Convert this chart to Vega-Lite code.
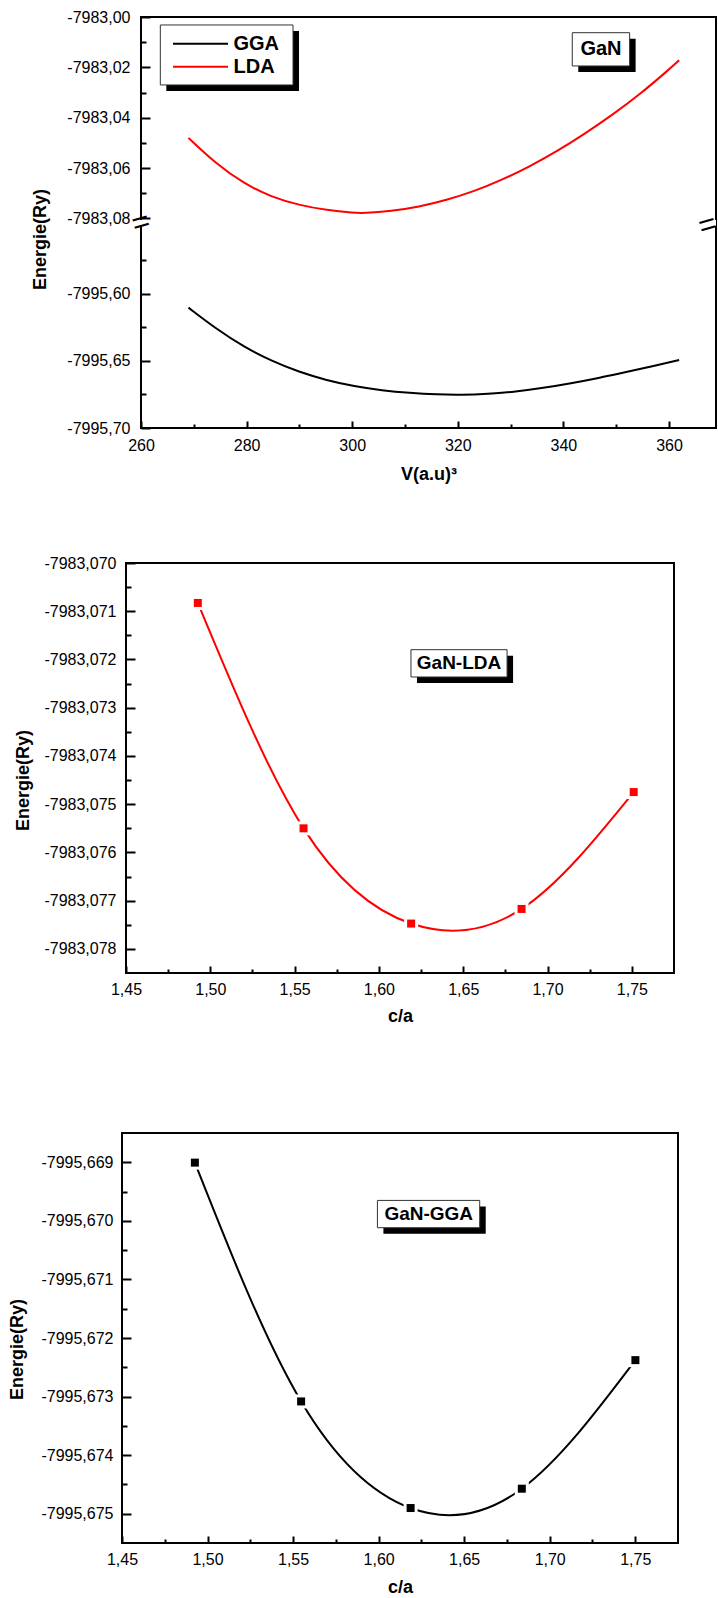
{
  "$schema": "https://vega.github.io/schema/vega-lite/v6.json",
  "padding": {"left": 0, "top": 8, "right": 0, "bottom": 0},
  "spacing": 0,
  "config": {
    "view": {"stroke": null},
    "font": "Liberation Sans",
    "axis": {
      "labelFont": "Liberation Sans", "labelFontSize": 16, "labelColor": "#000",
      "titleFont": "Liberation Sans", "titleFontSize": 18, "titleFontWeight": "bold", "titleColor": "#000",
      "tickColor": "#000", "domain": false, "grid": false, "labelFlush": false, "labelOverlap": false
    }
  },
  "datasets": {
    "ev": [
      {"V": 268.99, "E": -7983.0480, "method": "LDA"},
      {"V": 274.22, "E": -7983.0583, "method": "LDA"},
      {"V": 279.46, "E": -7983.0661, "method": "LDA"},
      {"V": 284.69, "E": -7983.0715, "method": "LDA"},
      {"V": 289.93, "E": -7983.0747, "method": "LDA"},
      {"V": 295.17, "E": -7983.0767, "method": "LDA"},
      {"V": 300.40, "E": -7983.0778, "method": "LDA"},
      {"V": 302.15, "E": -7983.0779, "method": "LDA"},
      {"V": 307.38, "E": -7983.0771, "method": "LDA"},
      {"V": 312.62, "E": -7983.0754, "method": "LDA"},
      {"V": 317.85, "E": -7983.0727, "method": "LDA"},
      {"V": 323.09, "E": -7983.0692, "method": "LDA"},
      {"V": 328.32, "E": -7983.0647, "method": "LDA"},
      {"V": 333.56, "E": -7983.0594, "method": "LDA"},
      {"V": 338.80, "E": -7983.0533, "method": "LDA"},
      {"V": 344.03, "E": -7983.0464, "method": "LDA"},
      {"V": 349.27, "E": -7983.0389, "method": "LDA"},
      {"V": 354.50, "E": -7983.0307, "method": "LDA"},
      {"V": 359.74, "E": -7983.0213, "method": "LDA"},
      {"V": 361.92, "E": -7983.0172, "method": "LDA"},
      {"V": 268.99, "E": -7995.6104, "method": "GGA"},
      {"V": 274.22, "E": -7995.6261, "method": "GGA"},
      {"V": 279.46, "E": -7995.6395, "method": "GGA"},
      {"V": 284.69, "E": -7995.6501, "method": "GGA"},
      {"V": 289.93, "E": -7995.6583, "method": "GGA"},
      {"V": 295.17, "E": -7995.6645, "method": "GGA"},
      {"V": 300.40, "E": -7995.6690, "method": "GGA"},
      {"V": 305.64, "E": -7995.6720, "method": "GGA"},
      {"V": 310.87, "E": -7995.6739, "method": "GGA"},
      {"V": 316.11, "E": -7995.6751, "method": "GGA"},
      {"V": 320.47, "E": -7995.6754, "method": "GGA"},
      {"V": 325.71, "E": -7995.6747, "method": "GGA"},
      {"V": 330.94, "E": -7995.6729, "method": "GGA"},
      {"V": 336.18, "E": -7995.6702, "method": "GGA"},
      {"V": 341.41, "E": -7995.6667, "method": "GGA"},
      {"V": 346.65, "E": -7995.6628, "method": "GGA"},
      {"V": 351.88, "E": -7995.6584, "method": "GGA"},
      {"V": 357.12, "E": -7995.6538, "method": "GGA"},
      {"V": 361.92, "E": -7995.6494, "method": "GGA"}
    ],
    "ca_lda": [
      {"c": 1.4926, "E": -7983.070828},
      {"c": 1.5553, "E": -7983.075501},
      {"c": 1.6191, "E": -7983.077475},
      {"c": 1.6846, "E": -7983.077172},
      {"c": 1.7511, "E": -7983.074749}
    ],
    "ca_gga": [
      {"c": 1.4926, "E": -7995.669006},
      {"c": 1.5547, "E": -7995.673083},
      {"c": 1.6187, "E": -7995.674903},
      {"c": 1.6837, "E": -7995.674573},
      {"c": 1.7501, "E": -7995.672378}
    ]
  },
  "vconcat": [
    {
      "bounds": "flush",
      "spacing": 0,
      "hconcat": [
        {"width": 141, "height": 1, "data": {"values": []}, "mark": "point"},
        {
          "width": 575,
          "height": 411,
          "view": {"stroke": "#000", "strokeWidth": 2},
          "resolve": {"axis": {"x": "independent", "y": "independent"}},
          "layer": [
            {
              "data": {"name": "ev"},
              "mark": {"type": "line", "strokeWidth": 2, "interpolate": "basis"},
              "encoding": {
                "x": {
                  "field": "V", "type": "quantitative",
                  "scale": {"domain": [260, 368.9], "nice": false, "zero": false},
                  "axis": {"orient": "bottom", "values": [260, 280, 300, 320, 340, 360], "tickSize": -7, "tickWidth": 2, "labelPadding": 16,
                    "title": "V(a.u)³", "titleY": 46, "titleBaseline": "middle"}
                },
                "y": {
                  "field": "E", "type": "quantitative",
                  "scale": {"domain": [-7995.70, -7995.5496, -7983.0806, -7983.00], "range": [411, 209, 203, 0], "nice": false, "zero": false},
                  "axis": {"orient": "left", "values": [-7983.00, -7983.02, -7983.04, -7983.06, -7983.08, -7995.60, -7995.65, -7995.70],
                    "tickSize": -9, "tickWidth": 2, "labelPadding": 20,
                    "labelExpr": "replace(replace(format(datum.value, '.2f'), '.', ','), '\u2212', '-')",
                    "title": "Energie(Ry)", "titleX": -101, "titleY": 222, "titleAngle": 270, "titleAlign": "center", "titleBaseline": "middle"}
                },
                "color": {"field": "method", "type": "nominal", "scale": {"domain": ["GGA", "LDA"], "range": ["#000000", "#ff0000"]}, "legend": null}
              }
            },
            {
              "data": {"name": "ev"},
              "mark": {"type": "point", "opacity": 0},
              "encoding": {
                "x": {"field": "V", "type": "quantitative", "axis": {"orient": "bottom", "values": [270, 290, 310, 330, 350], "labels": false, "tickSize": -4, "tickWidth": 2, "title": null}},
                "y": {"field": "E", "type": "quantitative", "axis": {"orient": "left", "values": [-7983.01, -7983.03, -7983.05, -7983.07, -7995.575, -7995.625, -7995.675], "labels": false, "tickSize": -5, "tickWidth": 2, "title": null}}
              }
            },
            {
              "data": {"values": [{}]},
              "mark": {"type": "rect", "fill": "#000", "xOffset": 6, "x2Offset": 6, "yOffset": 6, "y2Offset": 6},
              "encoding": {
                "x": {"datum": 263.66, "type": "quantitative", "axis": null}, "x2": {"datum": 288.79},
                "y": {"datum": -7983.00317, "type": "quantitative", "axis": null}, "y2": {"datum": -7983.02698}
              }
            },
            {
              "data": {"values": [{}]},
              "mark": {"type": "rect", "fill": "#fff", "stroke": "#333", "strokeWidth": 1},
              "encoding": {
                "x": {"datum": 263.66, "type": "quantitative", "axis": null}, "x2": {"datum": 288.79},
                "y": {"datum": -7983.00317, "type": "quantitative", "axis": null}, "y2": {"datum": -7983.02698}
              }
            },
            {
              "data": {"values": [{}]},
              "mark": {"type": "rule", "stroke": "#000", "strokeWidth": 2},
              "encoding": {
                "x": {"datum": 266.06, "type": "quantitative", "axis": null}, "x2": {"datum": 276.48},
                "y": {"datum": -7983.0106, "type": "quantitative", "axis": null}
              }
            },
            {
              "data": {"values": [{}]},
              "mark": {"type": "rule", "stroke": "#ff0000", "strokeWidth": 2},
              "encoding": {
                "x": {"datum": 266.06, "type": "quantitative", "axis": null}, "x2": {"datum": 276.48},
                "y": {"datum": -7983.01972, "type": "quantitative", "axis": null}
              }
            },
            {
              "data": {"values": [{}]},
              "mark": {"type": "text", "text": "GGA", "align": "left", "baseline": "middle", "fontSize": 20, "fontWeight": "bold", "font": "Liberation Sans", "color": "#000"},
              "encoding": {
                "x": {"datum": 277.52, "type": "quantitative", "axis": null},
                "y": {"datum": -7983.0106, "type": "quantitative", "axis": null}
              }
            },
            {
              "data": {"values": [{}]},
              "mark": {"type": "text", "text": "LDA", "align": "left", "baseline": "middle", "fontSize": 20, "fontWeight": "bold", "font": "Liberation Sans", "color": "#000"},
              "encoding": {
                "x": {"datum": 277.52, "type": "quantitative", "axis": null},
                "y": {"datum": -7983.01972, "type": "quantitative", "axis": null}
              }
            },
            {
              "data": {"values": [{}]},
              "mark": {"type": "rect", "fill": "#000", "xOffset": 6, "x2Offset": 6, "yOffset": 6, "y2Offset": 6},
              "encoding": {
                "x": {"datum": 341.68, "type": "quantitative", "axis": null}, "x2": {"datum": 352.54},
                "y": {"datum": -7983.00623, "type": "quantitative", "axis": null}, "y2": {"datum": -7983.01944}
              }
            },
            {
              "data": {"values": [{}]},
              "mark": {"type": "rect", "fill": "#fff", "stroke": "#333", "strokeWidth": 1},
              "encoding": {
                "x": {"datum": 341.68, "type": "quantitative", "axis": null}, "x2": {"datum": 352.54},
                "y": {"datum": -7983.00623, "type": "quantitative", "axis": null}, "y2": {"datum": -7983.01944}
              }
            },
            {
              "data": {"values": [{}]},
              "mark": {"type": "text", "text": "GaN", "align": "center", "baseline": "middle", "fontSize": 20, "fontWeight": "bold", "font": "Liberation Sans", "color": "#000"},
              "encoding": {
                "x": {"datum": 347.12, "type": "quantitative", "axis": null},
                "y": {"datum": -7983.01282, "type": "quantitative", "axis": null}
              }
            },
            {
              "data": {"values": [{}]},
              "mark": {"type": "rect", "fill": "#fff"},
              "encoding": {
                "x": {"datum": 259.2, "type": "quantitative", "axis": null}, "x2": {"datum": 260.8},
                "y": {"datum": -7995.5496, "type": "quantitative", "axis": null}, "y2": {"datum": -7983.0806}
              }
            },
            {
              "data": {"values": [{}]},
              "mark": {"type": "text", "text": "=", "align": "center", "baseline": "middle", "fontSize": 30, "angle": -16, "font": "Liberation Sans", "color": "#000"},
              "encoding": {
                "x": {"datum": 260, "type": "quantitative", "axis": null},
                "y": {"datum": -7989.3151, "type": "quantitative", "axis": null}
              }
            },
            {
              "data": {"values": [{}]},
              "mark": {"type": "rect", "fill": "#fff", "clip": true},
              "encoding": {
                "x": {"datum": 368.1, "type": "quantitative", "axis": null}, "x2": {"datum": 369.2},
                "y": {"datum": -7995.5496, "type": "quantitative", "axis": null}, "y2": {"datum": -7983.0806}
              }
            },
            {
              "data": {"values": [{}]},
              "mark": {"type": "text", "text": "=", "align": "right", "baseline": "middle", "fontSize": 30, "angle": -16, "font": "Liberation Sans", "color": "#000"},
              "encoding": {
                "x": {"datum": 368.9, "type": "quantitative", "axis": null},
                "y": {"datum": -7989.3151, "type": "quantitative", "axis": null}
              }
            }
          ]
        }
      ]
    },
    {"width": 1, "height": 70, "data": {"values": []}, "mark": "point"},
    {
      "bounds": "flush",
      "spacing": 0,
      "hconcat": [
        {"width": 126, "height": 1, "data": {"values": []}, "mark": "point"},
        {
          "width": 548,
          "height": 410,
          "view": {"stroke": "#000", "strokeWidth": 2},
          "resolve": {"axis": {"x": "independent", "y": "independent"}},
          "layer": [
            {
              "data": {"name": "ca_lda"},
              "mark": {"type": "line", "strokeWidth": 2, "interpolate": "natural", "color": "#ff0000"},
              "encoding": {
                "x": {
                  "field": "c", "type": "quantitative",
                  "scale": {"domain": [1.45, 1.775], "nice": false, "zero": false},
                  "axis": {"orient": "bottom", "values": [1.45, 1.5, 1.55, 1.6, 1.65, 1.7, 1.75], "tickSize": -7, "tickWidth": 2, "labelPadding": 15,
                    "labelExpr": "replace(format(datum.value, '.2f'), '.', ',')",
                    "title": "c/a", "titleY": 43, "titleBaseline": "middle"}
                },
                "y": {
                  "field": "E", "type": "quantitative",
                  "scale": {"domain": [-7983.0785, -7983.070], "nice": false, "zero": false},
                  "axis": {"orient": "left", "values": [-7983.070, -7983.071, -7983.072, -7983.073, -7983.074, -7983.075, -7983.076, -7983.077, -7983.078],
                    "tickSize": -9, "tickWidth": 2, "labelPadding": 19,
                    "labelExpr": "replace(replace(format(datum.value, '.3f'), '.', ','), '\u2212', '-')",
                    "title": "Energie(Ry)", "titleX": -103, "titleY": 217, "titleAngle": 270, "titleAlign": "center", "titleBaseline": "middle"}
                }
              }
            },
            {
              "data": {"name": "ca_lda"},
              "mark": {"type": "square", "size": 196, "color": "#fff", "opacity": 1, "filled": true},
              "encoding": {
                "x": {"field": "c", "type": "quantitative", "axis": null},
                "y": {"field": "E", "type": "quantitative", "axis": null}
              }
            },
            {
              "data": {"name": "ca_lda"},
              "mark": {"type": "square", "size": 64, "color": "#ff0000", "opacity": 1, "filled": true},
              "encoding": {
                "x": {"field": "c", "type": "quantitative", "axis": null},
                "y": {"field": "E", "type": "quantitative", "axis": null}
              }
            },
            {
              "data": {"name": "ca_lda"},
              "mark": {"type": "point", "opacity": 0},
              "encoding": {
                "x": {"field": "c", "type": "quantitative", "axis": {"orient": "bottom", "values": [1.475, 1.525, 1.575, 1.625, 1.675, 1.725], "labels": false, "tickSize": -4, "tickWidth": 2, "title": null}},
                "y": {"field": "E", "type": "quantitative", "axis": {"orient": "left", "values": [-7983.0705, -7983.0715, -7983.0725, -7983.0735, -7983.0745, -7983.0755, -7983.0765, -7983.0775], "labels": false, "tickSize": -5, "tickWidth": 2, "title": null}}
              }
            },
            {
              "data": {"values": [{}]},
              "mark": {"type": "rect", "fill": "#000", "xOffset": 6, "x2Offset": 6, "yOffset": 6, "y2Offset": 6},
              "encoding": {
                "x": {"datum": 1.619, "type": "quantitative", "axis": null}, "x2": {"datum": 1.676},
                "y": {"datum": -7983.071797, "type": "quantitative", "axis": null}, "y2": {"datum": -7983.072363}
              }
            },
            {
              "data": {"values": [{}]},
              "mark": {"type": "rect", "fill": "#fff", "stroke": "#333", "strokeWidth": 1},
              "encoding": {
                "x": {"datum": 1.619, "type": "quantitative", "axis": null}, "x2": {"datum": 1.676},
                "y": {"datum": -7983.071797, "type": "quantitative", "axis": null}, "y2": {"datum": -7983.072363}
              }
            },
            {
              "data": {"values": [{}]},
              "mark": {"type": "text", "text": "GaN-LDA", "align": "center", "baseline": "middle", "fontSize": 19, "fontWeight": "bold", "font": "Liberation Sans", "color": "#000"},
              "encoding": {
                "x": {"datum": 1.6475, "type": "quantitative", "axis": null},
                "y": {"datum": -7983.072079, "type": "quantitative", "axis": null}
              }
            }
          ]
        }
      ]
    },
    {"width": 1, "height": 106, "data": {"values": []}, "mark": "point"},
    {
      "bounds": "flush",
      "spacing": 0,
      "hconcat": [
        {"width": 122, "height": 1, "data": {"values": []}, "mark": "point"},
        {
          "width": 556,
          "height": 410,
          "view": {"stroke": "#000", "strokeWidth": 2},
          "resolve": {"axis": {"x": "independent", "y": "independent"}},
          "layer": [
            {
              "data": {"name": "ca_gga"},
              "mark": {"type": "line", "strokeWidth": 2, "interpolate": "natural", "color": "#000"},
              "encoding": {
                "x": {
                  "field": "c", "type": "quantitative",
                  "scale": {"domain": [1.45, 1.775], "nice": false, "zero": false},
                  "axis": {"orient": "bottom", "values": [1.45, 1.5, 1.55, 1.6, 1.65, 1.7, 1.75], "tickSize": -7, "tickWidth": 2, "labelPadding": 15,
                    "labelExpr": "replace(format(datum.value, '.2f'), '.', ',')",
                    "title": "c/a", "titleY": 44, "titleBaseline": "middle"}
                },
                "y": {
                  "field": "E", "type": "quantitative",
                  "scale": {"domain": [-7995.6755, -7995.6685], "nice": false, "zero": false},
                  "axis": {"orient": "left", "values": [-7995.669, -7995.670, -7995.671, -7995.672, -7995.673, -7995.674, -7995.675],
                    "tickSize": -9, "tickWidth": 2, "labelPadding": 18,
                    "labelExpr": "replace(replace(format(datum.value, '.3f'), '.', ','), '\u2212', '-')",
                    "title": "Energie(Ry)", "titleX": -104.6, "titleY": 216, "titleAngle": 270, "titleAlign": "center", "titleBaseline": "middle"}
                }
              }
            },
            {
              "data": {"name": "ca_gga"},
              "mark": {"type": "square", "size": 196, "color": "#fff", "opacity": 1, "filled": true},
              "encoding": {
                "x": {"field": "c", "type": "quantitative", "axis": null},
                "y": {"field": "E", "type": "quantitative", "axis": null}
              }
            },
            {
              "data": {"name": "ca_gga"},
              "mark": {"type": "square", "size": 64, "color": "#000", "opacity": 1, "filled": true},
              "encoding": {
                "x": {"field": "c", "type": "quantitative", "axis": null},
                "y": {"field": "E", "type": "quantitative", "axis": null}
              }
            },
            {
              "data": {"name": "ca_gga"},
              "mark": {"type": "point", "opacity": 0},
              "encoding": {
                "x": {"field": "c", "type": "quantitative", "axis": {"orient": "bottom", "values": [1.475, 1.525, 1.575, 1.625, 1.675, 1.725], "labels": false, "tickSize": -4, "tickWidth": 2, "title": null}},
                "y": {"field": "E", "type": "quantitative", "axis": {"orient": "left", "values": [-7995.6695, -7995.6705, -7995.6715, -7995.6725, -7995.6735, -7995.6745], "labels": false, "tickSize": -5, "tickWidth": 2, "title": null}}
              }
            },
            {
              "data": {"values": [{}]},
              "mark": {"type": "rect", "fill": "#000", "xOffset": 6, "x2Offset": 6, "yOffset": 6, "y2Offset": 6},
              "encoding": {
                "x": {"datum": 1.5993, "type": "quantitative", "axis": null}, "x2": {"datum": 1.6591},
                "y": {"datum": -7995.669651, "type": "quantitative", "axis": null}, "y2": {"datum": -7995.670117}
              }
            },
            {
              "data": {"values": [{}]},
              "mark": {"type": "rect", "fill": "#fff", "stroke": "#333", "strokeWidth": 1},
              "encoding": {
                "x": {"datum": 1.5993, "type": "quantitative", "axis": null}, "x2": {"datum": 1.6591},
                "y": {"datum": -7995.669651, "type": "quantitative", "axis": null}, "y2": {"datum": -7995.670117}
              }
            },
            {
              "data": {"values": [{}]},
              "mark": {"type": "text", "text": "GaN-GGA", "align": "center", "baseline": "middle", "fontSize": 19, "fontWeight": "bold", "font": "Liberation Sans", "color": "#000"},
              "encoding": {
                "x": {"datum": 1.6293, "type": "quantitative", "axis": null},
                "y": {"datum": -7995.669883, "type": "quantitative", "axis": null}
              }
            }
          ]
        }
      ]
    }
  ]
}
